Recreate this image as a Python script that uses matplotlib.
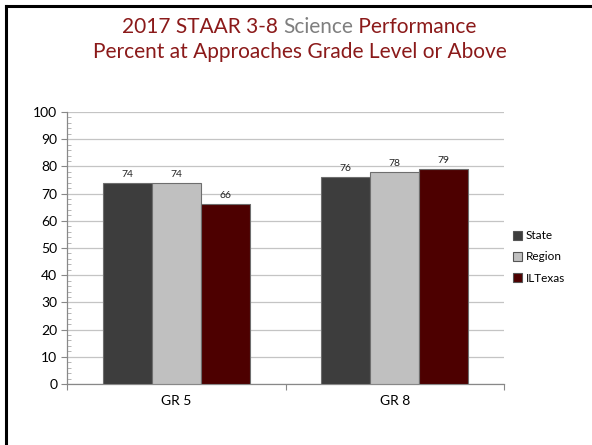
import matplotlib
matplotlib.use("Agg")
import matplotlib.pyplot as plt
from matplotlib.lines import Line2D
from matplotlib.ticker import MultipleLocator
import numpy as np

categories = ["GR 5", "GR 8"]
series_names = ["State", "Region", "ILTexas"]
state = [74, 76]
region = [74, 78]
iltexas = [66, 79]
colors = ["#3d3d3d", "#c0c0c0", "#4d0000"]

plt.rcParams['font.family'] = ['Lato', 'DejaVu Sans']

fig = plt.figure(figsize=(5.92, 4.45), dpi=100)
ax = fig.add_axes([67/592, 1-384/445, (504-67)/592, (384-112)/445])

x = np.arange(len(categories))
w = 0.224
for i, (vals, name, c) in enumerate(zip([state, region, iltexas], series_names, colors)):
    pos = x + (i - 1) * w
    bars = ax.bar(pos, vals, width=w, color=c, edgecolor="#6e6e6e", linewidth=0.8, label=name, zorder=3)
    for xp, v in zip(pos, vals):
        ax.text(xp, v + 1.5, str(v), ha="center", va="bottom", fontsize=7.5, color="#222222", zorder=4)

ax.set_xlim(-0.5, 1.5)
ax.set_ylim(0, 100)
ax.yaxis.set_major_locator(MultipleLocator(10))
ax.yaxis.set_minor_locator(MultipleLocator(2))
ax.grid(axis="y", which="major", color="#c4c4c4", linewidth=0.9, zorder=0)
ax.set_axisbelow(True)

ax.set_xticks([-0.5, 0.5, 1.5], minor=False)
ax.set_xticklabels(["", "", ""])
ax.set_xticks(x, minor=True)
ax.set_xticklabels(categories, minor=True, fontsize=10)
ax.tick_params(axis="x", which="major", length=4, color="#888888", direction="out")
ax.tick_params(axis="x", which="minor", length=0, pad=8)
ax.tick_params(axis="y", which="major", length=4, color="#888888", direction="out", labelsize=10, pad=3)
ax.tick_params(axis="y", which="minor", length=3, color="#aaaaaa", direction="in")

for s in ["top", "right"]:
    ax.spines[s].set_visible(False)
for s in ["left", "bottom"]:
    ax.spines[s].set_color("#888888")
    ax.spines[s].set_linewidth(0.9)

leg = ax.legend(loc="center left", bbox_to_anchor=(1.01, (384 - 257) / 272), frameon=False,
                fontsize=8.5, handlelength=0.75, handleheight=0.75, handletextpad=0.3,
                labelspacing=0.85, borderaxespad=0)
for h in leg.legend_handles:
    h.set_edgecolor("#555555")

# Title
title_red = "#8b1a1a"
parts = [("2017 STAAR 3-8 ", title_red), ("Science", "#7f7f7f"), (" Performance", title_red)]
fs = 15
fig.canvas.draw()
r = fig.canvas.get_renderer()
tmp = [fig.text(0, 0, p, fontsize=fs) for p, _ in parts]
widths = [t.get_window_extent(r).width for t in tmp]
for t in tmp:
    t.remove()
total = sum(widths)
cx = 299
start = cx - total / 2
xp = start
for (p, c), wd in zip(parts, widths):
    fig.text(xp / 592, 1 - 27 / 445, p, fontsize=fs, color=c, ha="left", va="center")
    xp += wd
fig.text(300 / 592, 1 - 52 / 445, "Percent at Approaches Grade Level or Above",
         fontsize=fs, color=title_red, ha="center", va="center")

# Slide border
fig.add_artist(Line2D([6/592, 1.0], [1 - 5.5/445, 1 - 5.5/445], transform=fig.transFigure, color="black", linewidth=2.2))
fig.add_artist(Line2D([6/592, 6/592], [1 - 5.5/445, 0], transform=fig.transFigure, color="black", linewidth=2.2))

fig.savefig("out.png", dpi=100)
